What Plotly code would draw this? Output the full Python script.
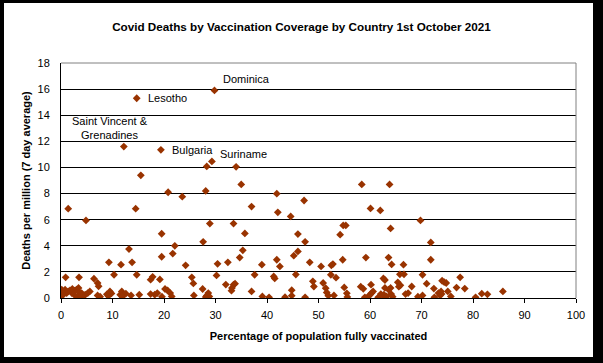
import plotly.graph_objects as go

# Labelled countries
label_names = ["Dominica", "Lesotho", "Saint Vincent &<br>Grenadines", "Bulgaria", "Suriname"]
label_x = [29.8, 14.7, 12.2, 19.4, 34.0]
label_y = [15.9, 15.3, 11.6, 11.35, 10.05]

# Other countries: % fully vaccinated
vacc_pct = [
    15.5, 28.3, 29.3, 35.0, 58.4, 63.8,
    1.4, 4.85, 14.5, 20.8, 23.55, 28.1, 28.9, 27.6,
    41.9, 47.2, 37.0, 42.1, 44.6, 60.1, 62.0,
    33.5, 35.7, 46.0, 47.4, 54.2, 54.8, 55.3, 64.0,
    69.8, 71.8, 71.8,
    35.3, 34.7, 30.4, 32.4, 39.0, 41.9, 42.5, 45.2, 46.0, 48.3, 50.5, 52.5, 52.8, 54.7, 59.2, 63.6, 64.2, 66.5,
    19.55, 19.55, 13.2, 21.7, 22.1, 9.3, 11.65, 13.8, 24.2,
    0.9, 3.5, 6.4, 7.1, 7.3, 10.3, 14.7, 17.4, 17.8, 19.2, 25.4, 25.7, 30.2, 37.6, 41.3, 41.5, 45.6, 52.4, 53.4,
    48.9, 49.1, 50.9, 51.4, 51.6, 51.9, 53.0, 55.0, 55.5, 55.6, 44.8, 44.8, 43.5, 47.4, 39.1, 40.4, 37.0,
    32.0, 33.5, 33.8, 33.2, 33.1, 27.5, 28.6, 28.3, 28.8, 28.1, 25.8,
    20.2, 20.7, 21.2, 21.5, 19.6, 18.2, 18.7, 17.4, 15.2, 13.6, 11.5, 11.8, 12.1, 12.6, 11.9,
    8.9, 9.2, 9.5, 9.8, 7.1, 7.6, 5.2, 5.6, 4.7, 4.3, 4.0, 3.7, 3.4, 3.4, 3.0, 2.7, 2.6, 2.2, 2.1,
    1.75, 1.4, 1.1, 0.8, 0.45, 0.1, 0.15, 0.1,
    58.2, 58.7, 60.2, 59.0, 59.7, 60.3, 60.6, 60.0, 61.6, 62.1, 62.7, 63.2, 62.9, 62.6, 62.9, 63.6,
    64.0, 64.1, 62.9, 64.4,
    65.8, 66.6, 70.2, 65.4, 65.6, 65.9, 68.1, 71.0, 72.4, 74.0, 74.4, 74.8, 77.5, 76.8, 78.4, 75.1,
    75.7, 73.3, 73.6, 73.9, 73.8, 72.5, 70.2, 69.3, 67.4, 66.9, 80.5, 81.7, 82.8, 85.8,
]

# Deaths per million (7 day average)
deaths_pm = [
    9.4, 10.08, 10.46, 8.7, 8.7, 8.7,
    6.84, 5.94, 6.84, 8.1, 7.76, 8.2, 5.7, 4.3,
    7.99, 7.47, 7.0, 6.56, 6.25, 6.86, 6.71,
    5.7, 4.95, 4.9, 4.3, 4.85, 5.56, 5.56, 5.33,
    5.94, 4.26, 2.93,
    3.65, 3.1, 2.62, 2.73, 2.55, 2.93, 2.42, 3.24, 3.57, 2.73, 2.42, 2.5, 2.6, 2.93, 3.1, 3.1, 2.57, 2.55,
    4.92, 3.16, 3.75, 3.4, 4.0, 2.73, 2.55, 2.73, 2.5,
    1.58, 1.58, 1.48, 1.15, 0.9, 1.78, 1.78, 1.4, 1.62, 1.42, 1.58, 1.12, 1.73, 1.78, 1.65, 1.5, 1.8, 1.78, 1.56,
    1.28, 0.88, 1.15, 0.75, 0.42, 0.18, 0.2, 0.81, 0.36, 0.08, 0.6, 0.18, 0.06, 0.05, 0.12, 0.05, 0.5,
    1.03, 1.02, 1.1, 0.77, 0.56, 0.69, 0.38, 0.18, 0.12, 0.08, 0.2,
    0.69, 0.58, 0.38, 0.12, 0.1, 0.25, 0.38, 0.3, 0.25, 0.2, 0.25, 0.5, 0.25, 0.33, 0.1,
    0.28, 0.15, 0.5, 0.35, 0.2, 0.1, 0.38, 0.5, 0.25, 0.12, 0.38, 0.38, 0.77, 0.12, 0.64, 0.2, 0.56, 0.69, 0.38,
    0.58, 0.5, 0.38, 0.64, 0.25, 0.2, 0.64, 0.5,
    0.87, 0.7, 1.02, 0.05, 0.12, 0.38, 0.5, 0.25, 0.05, 0.3, 0.25, 0.12, 0.77, 1.5, 1.38, 0.64,
    0.77, 0.3, 0.05, 0.1,
    1.81, 1.81, 1.78, 1.2, 0.87, 0.97, 0.88, 1.1, 0.72, 1.32, 1.22, 1.15, 1.58, 0.8, 0.72, 0.5,
    0.12, 0.38, 0.2, 0.3, 0.5, 0.05, 0.2, 0.1, 0.38, 0.3, 0.05, 0.33, 0.28, 0.5,
]

x_ticks = [0, 10, 20, 30, 40, 50, 60, 70, 80, 90, 100]
y_ticks = [0, 2, 4, 6, 8, 10, 12, 14, 16, 18]

MARKER = "#993300"
FONT = "Arial, Liberation Sans, sans-serif"

fig = go.Figure()
fig.add_trace(go.Scatter(
    x=vacc_pct + label_x, y=deaths_pm + label_y, mode="markers",
    marker=dict(symbol="diamond", size=6, color=MARKER, line=dict(width=0)),
    showlegend=False, hoverinfo="x+y",
))

# label offsets (px) relative to the labelled point
offsets = [
    dict(xanchor="left", xshift=7, yshift=11),
    dict(xanchor="left", xshift=9, yshift=0),
    dict(xanchor="center", xshift=-14, yshift=19),
    dict(xanchor="left", xshift=9, yshift=0),
    dict(xanchor="left", xshift=-18, yshift=13),
]
for name, lx, ly, off in zip(label_names, label_x, label_y, offsets):
    fig.add_annotation(x=lx, y=ly, text=name, showarrow=False, yanchor="middle",
                       font=dict(family=FONT, size=11, color="black"), **off)

W, H = 603, 363
L, R, T, B = 61, 27, 63, 65
pw, ph = W - L - R, H - T - B

def px_x(p):
    return (p - L) / pw

def px_y(p):
    return (H - B - p) / ph

shapes = [
    # plot-area border (grey, top & right)
    dict(type="line", xref="paper", yref="paper", x0=0, x1=1, y0=1, y1=1,
         line=dict(color="#808080", width=1), layer="above"),
    dict(type="line", xref="paper", yref="paper", x0=1, x1=1, y0=0, y1=1,
         line=dict(color="#808080", width=1), layer="above"),
    # outer black frame
    dict(type="rect", xref="paper", yref="paper", x0=px_x(-5), x1=px_x(4), y0=px_y(H + 5), y1=px_y(-5),
         fillcolor="black", line=dict(width=0), layer="above"),
    dict(type="rect", xref="paper", yref="paper", x0=px_x(-5), x1=px_x(W + 5), y0=px_y(3), y1=px_y(-5),
         fillcolor="black", line=dict(width=0), layer="above"),
    dict(type="rect", xref="paper", yref="paper", x0=px_x(593), x1=px_x(W + 5), y0=px_y(H + 5), y1=px_y(-5),
         fillcolor="black", line=dict(width=0), layer="above"),
    dict(type="rect", xref="paper", yref="paper", x0=px_x(-5), x1=px_x(W + 5), y0=px_y(H + 5), y1=px_y(357),
         fillcolor="black", line=dict(width=0), layer="above"),
]

fig.update_layout(
    width=W, height=H,
    margin=dict(l=L, r=R, t=T, b=B),
    paper_bgcolor="white", plot_bgcolor="white",
    font=dict(family=FONT, size=11, color="black"),
    title=dict(text="<b>Covid Deaths by Vaccination Coverage by Country 1st October 2021</b>",
               x=0.5, xref="container", xanchor="center",
               y=1 - 27 / H, yref="container", yanchor="middle",
               font=dict(family=FONT, size=11.7, color="black")),
    xaxis=dict(range=[0, 100], tickvals=x_ticks, ticks="outside", ticklen=4, tickcolor="black",
               showline=True, linecolor="black", linewidth=1, showgrid=False, zeroline=False,
               tickfont=dict(family=FONT, size=11, color="black"), ticklabelstandoff=3,
               title=dict(text="<b>Percentage of population fully vaccinated</b>", standoff=12,
                          font=dict(family=FONT, size=11, color="black"))),
    yaxis=dict(range=[0, 18], tickvals=y_ticks, ticks="", showline=True, linecolor="black", linewidth=1,
               showgrid=True, gridcolor="black", gridwidth=1, zeroline=False,
               tickfont=dict(family=FONT, size=11, color="black"), ticklabelstandoff=8,
               title=dict(text="<b>Deaths per million (7 day average)</b>", standoff=4,
                          font=dict(family=FONT, size=11, color="black"))),
    shapes=shapes,
)

fig.write_html(
    "out.html",
    config={"displayModeBar": False},
    post_script="document.body.style.margin='0';document.body.style.overflow='hidden';",
)
